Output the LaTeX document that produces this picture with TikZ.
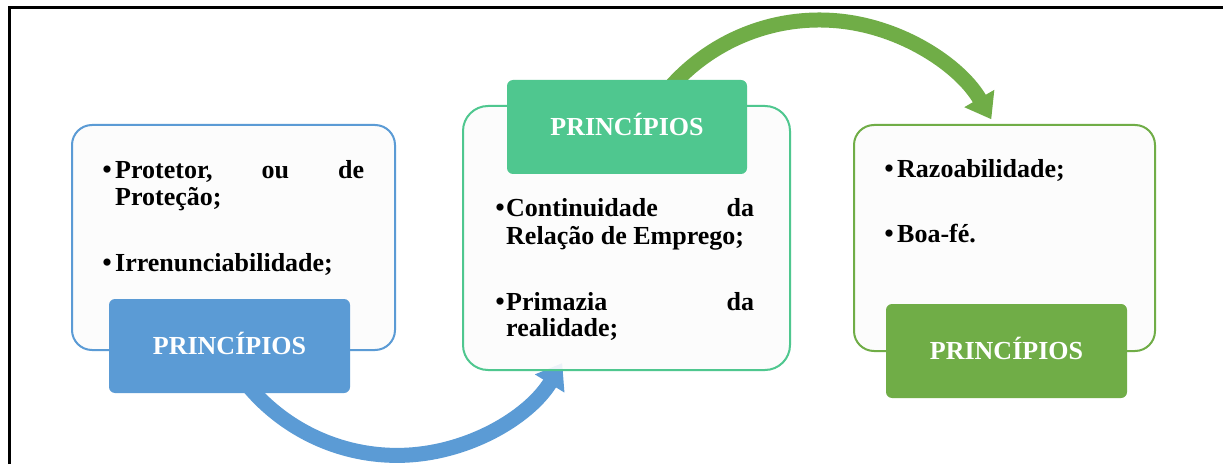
\documentclass[tikz,border=0pt]{standalone}
\usepackage{fontspec}
\setmainfont{Liberation Serif}
\usetikzlibrary{arrows.meta}
\definecolor{cblue}{HTML}{5B9BD5}
\definecolor{cteal}{HTML}{4FC78F}
\definecolor{cgreen}{HTML}{70AD47}
\definecolor{cpaper}{HTML}{FCFCFC}
\begin{document}
\begin{tikzpicture}[x=1pt,y=1pt,
  outer/.style={draw, line width=2pt, rounded corners=20pt, fill=cpaper, fill opacity=0.9},
  head/.style={rounded corners=6pt, text=white, font=\fontsize{26}{30}\selectfont\bfseries,
    text height=17pt, text depth=0pt, inner sep=0pt},
  itm/.style={anchor=base west, inner sep=0pt, font=\fontsize{26}{30}\selectfont\bfseries},
  bul/.style={anchor=base, inner sep=0pt, font=\fontsize{30}{30}\selectfont},
  bigarrow/.style={line width=15pt, -{Triangle[length=24pt,width=33pt]}}
]
\useasboundingbox (0,0) rectangle (1223,464);
\fill[white] (0,0) rectangle (1223,464);
\draw[line width=3pt] (9.5,0) -- (9.5,456.5) -- (1223,456.5);

% arrows
\coordinate (bc) at (397,202.6);
\coordinate (gc) at (819.3,245.4);
\draw[bigarrow, cblue] ([shift={(215:194pt)}]bc) arc[start angle=215, end angle=328.4, radius=194pt];
\draw[bigarrow, cgreen] ([shift={(140:198.6pt)}]gc) arc[start angle=140, end angle=30, radius=198.6pt];

% boxes
\node[outer, draw=cblue, minimum width=323pt, minimum height=225pt] (ob1) at (233.5,226.5) {};
\node[head, fill=cblue, minimum width=241pt, minimum height=94pt] (h1) at (229.5,118) {PRINCÍPIOS};
\node[outer, draw=cteal, rounded corners=25pt, minimum width=327pt, minimum height=264pt] (ob2) at (626.5,226) {};
\node[head, fill=cteal, minimum width=240pt, minimum height=94pt] (h2) at (627,337) {PRINCÍPIOS};
\node[outer, draw=cgreen, minimum width=301pt, minimum height=226pt] (ob3) at (1004.5,226) {};
\node[head, fill=cgreen, minimum width=241pt, minimum height=94pt] (h3) at (1006.5,113) {PRINCÍPIOS};

% items left
\node[bul] (b1) at (107,285) {\raisebox{-1pt}{•}};
\node[itm] (t1a) at (115,285) {\makebox[249pt][s]{Protetor,\hfill ou\hfill de}};
\node[itm] (t1b) at (115,258) {Proteção;};
\node[bul] (b2) at (107,192.3) {\raisebox{-1pt}{•}};
\node[itm] (t2) at (115,192.3) {Irrenunciabilidade;};
% items middle
\node[bul] (b3) at (500,247.3) {\raisebox{-1pt}{•}};
\node[itm] (t3a) at (506,247.3) {\makebox[248pt][s]{Continuidade\hfill da}};
\node[itm] (t3b) at (506,219) {Relação de Emprego;};
\node[bul] (b4) at (500,154) {\raisebox{-1pt}{•}};
\node[itm] (t4a) at (506,154) {\makebox[248pt][s]{Primazia\hfill da}};
\node[itm] (t4b) at (506,127.3) {realidade;};
% items right
\node[bul] (b5) at (889,286) {\raisebox{-1pt}{•}};
\node[itm] (t5) at (897,286) {Razoabilidade;};
\node[bul] (b6) at (889,222) {\raisebox{-1pt}{•}};
\node[itm] (t6) at (897,222) {Boa-fé.};
\end{tikzpicture}
\end{document}
